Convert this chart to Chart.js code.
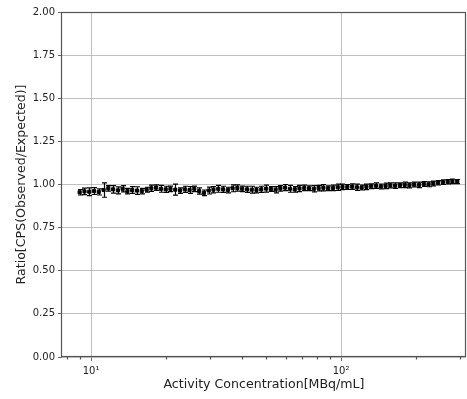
<!DOCTYPE html>
<html lang="en">
<head>
  <meta charset="UTF-8">
  <title>Ratio vs Activity Concentration</title>
  <script src="https://cdn.jsdelivr.net/npm/chart.js@4.4.1/dist/chart.umd.min.js"></script>
  <style>
    html, body { margin: 0; padding: 0; background: #fff; overflow: hidden; }
    #wrap { width: 467px; height: 399px; overflow: hidden; }
  </style>
</head>
<body>
  <div id="wrap">
    <canvas id="ratioChart" width="471" height="399"></canvas>
  </div>
  <script>
    // activity concentration [MBq/mL]
    const concentration = [
      9.00, 9.41, 9.83, 10.27, 10.73, 11.22, 11.72, 12.25, 12.80, 13.37,
      13.98, 14.60, 15.26, 15.95, 16.67, 17.42, 18.20, 19.02, 19.88, 20.77,
      21.71, 22.68, 23.70, 24.77, 25.88, 27.05, 28.27, 29.54, 30.87, 32.26,
      33.71, 35.23, 36.81, 38.47, 40.20, 42.01, 43.90, 45.87, 47.94, 50.10,
      52.35, 54.71, 57.17, 59.74, 62.43, 65.24, 68.17, 71.24, 74.45, 77.80,
      81.30, 84.96, 88.78, 92.78, 96.95, 101.3, 105.9, 110.7, 115.6, 120.8,
      126.3, 132.0, 137.9, 144.1, 150.6, 157.4, 164.5, 171.9, 179.6, 187.7,
      196.1, 205.0, 214.2, 223.8, 233.9, 244.4, 255.4, 266.9, 278.9, 291.5
    ];
    // observed / expected CPS
    const ratio = [
      0.955, 0.960, 0.958, 0.962, 0.957, 0.968, 0.978, 0.972, 0.966, 0.975,
      0.962, 0.968, 0.965, 0.962, 0.970, 0.978, 0.982, 0.975, 0.972, 0.975,
      0.970, 0.965, 0.972, 0.968, 0.975, 0.962, 0.952, 0.965, 0.970, 0.975,
      0.972, 0.968, 0.978, 0.980, 0.975, 0.972, 0.970, 0.968, 0.972, 0.976,
      0.974, 0.970, 0.978, 0.982, 0.975, 0.972, 0.977, 0.980, 0.978, 0.975,
      0.979, 0.981, 0.978, 0.980, 0.984, 0.986, 0.985, 0.988, 0.984, 0.982,
      0.986, 0.990, 0.993, 0.989, 0.992, 0.995, 0.993, 0.996, 0.998, 0.995,
      1.000, 0.998, 1.003, 1.001, 1.006, 1.010, 1.014, 1.016, 1.018, 1.017
    ];
    // standard deviation of the ratio
    const ratioErr = [
      0.016, 0.019, 0.022, 0.020, 0.018, 0.042, 0.016, 0.022, 0.020, 0.018,
      0.016, 0.020, 0.022, 0.016, 0.014, 0.018, 0.016, 0.020, 0.018, 0.016,
      0.032, 0.016, 0.018, 0.020, 0.016, 0.018, 0.016, 0.020, 0.018, 0.020,
      0.018, 0.016, 0.020, 0.018, 0.016, 0.018, 0.020, 0.016, 0.018, 0.020,
      0.014, 0.018, 0.016, 0.018, 0.020, 0.016, 0.018, 0.016, 0.014, 0.018,
      0.016, 0.018, 0.014, 0.016, 0.018, 0.016, 0.014, 0.016, 0.018, 0.014,
      0.016, 0.014, 0.016, 0.014, 0.016, 0.014, 0.016, 0.014, 0.016, 0.014,
      0.014, 0.016, 0.014, 0.014, 0.014, 0.013, 0.013, 0.012, 0.013, 0.012
    ];
    const majorTicks = [10, 100];
    const majorLabels = ['10\u00b9', '10\u00b2'];
    const minorTicks = [8, 9, 20, 30, 40, 50, 60, 70, 80, 90, 200, 300];

    const FONT = "'DejaVu Sans', sans-serif";
    const INK = '#222';

    // vertical error bars with caps, drawn under the markers
    const errorBars = {
      id: 'errorBars',
      beforeDatasetsDraw(chart) {
        const ctx = chart.ctx;
        const xs = chart.scales.x, ys = chart.scales.y;
        ctx.save();
        ctx.strokeStyle = '#000';
        ctx.lineWidth = 1.2;
        concentration.forEach((c, i) => {
          const px = Math.round(xs.getPixelForValue(c)) + 0.5;
          const top = ys.getPixelForValue(ratio[i] + ratioErr[i]);
          const bot = ys.getPixelForValue(ratio[i] - ratioErr[i]);
          ctx.beginPath();
          ctx.moveTo(px, top); ctx.lineTo(px, bot);
          ctx.moveTo(px - 2.5, top); ctx.lineTo(px + 2.5, top);
          ctx.moveTo(px - 2.5, bot); ctx.lineTo(px + 2.5, bot);
          ctx.stroke();
        });
        ctx.restore();
      }
    };

    // frame around the plot area plus short minor ticks on the log axis
    const frame = {
      id: 'frame',
      afterDraw(chart) {
        const ctx = chart.ctx;
        const a = chart.chartArea;
        const xs = chart.scales.x;
        ctx.save();
        ctx.strokeStyle = '#555';
        ctx.lineWidth = 1.2;
        ctx.strokeRect(Math.round(a.left) - 0.5, Math.round(a.top) + 0.5,
          Math.round(a.right - a.left), Math.round(a.bottom - a.top) - 1);
        ctx.beginPath();
        minorTicks.forEach(v => {
          const px = Math.round(xs.getPixelForValue(v)) + 0.5;
          ctx.moveTo(px, a.bottom);
          ctx.lineTo(px, a.bottom + 2.5);
        });
        ctx.stroke();
        ctx.restore();
      }
    };

    new Chart(document.getElementById('ratioChart'), {
      type: 'scatter',
      data: {
        datasets: [{
          data: concentration.map((c, i) => ({ x: c, y: ratio[i] })),
          pointStyle: 'rect',
          pointRadius: 2.2,
          borderWidth: 1,
          backgroundColor: '#000',
          borderColor: '#000'
        }]
      },
      options: {
        responsive: false,
        animation: false,
        layout: { padding: { left: 0, right: 0, top: 12, bottom: 0 } },
        plugins: { legend: { display: false }, tooltip: { enabled: false } },
        scales: {
          x: {
            type: 'logarithmic',
            min: 7.65,
            max: 316,
            afterBuildTicks: s => { s.ticks = majorTicks.map(v => ({ value: v })); },
            afterFit: s => { s.height = 42; },
            ticks: {
              autoSkip: false,
              maxRotation: 0,
              padding: 4,
              color: INK,
              font: { family: FONT, size: 10 },
              callback: v => majorLabels[majorTicks.indexOf(v)]
            },
            grid: { color: '#b0b0b0', lineWidth: 0.8, tickColor: '#444', tickLength: 4 },
            border: { display: false },
            title: {
              display: true,
              text: 'Activity Concentration[MBq/mL]',
              color: INK,
              font: { family: FONT, size: 12.6 },
              padding: { top: 2, bottom: 7 }
            }
          },
          y: {
            min: 0,
            max: 2,
            afterFit: s => { s.width = 62; },
            ticks: {
              stepSize: 0.25,
              padding: 3,
              color: INK,
              font: { family: FONT, size: 10 },
              callback: v => v.toFixed(2)
            },
            grid: { color: '#b0b0b0', lineWidth: 0.8, tickColor: '#444', tickLength: 4 },
            border: { display: false },
            title: {
              display: true,
              text: 'Ratio[CPS(Observed/Expected)]',
              color: INK,
              font: { family: FONT, size: 12.6 },
              padding: { top: 14, bottom: 4 }
            }
          }
        }
      },
      plugins: [errorBars, frame]
    });
  </script>
</body>
</html>
